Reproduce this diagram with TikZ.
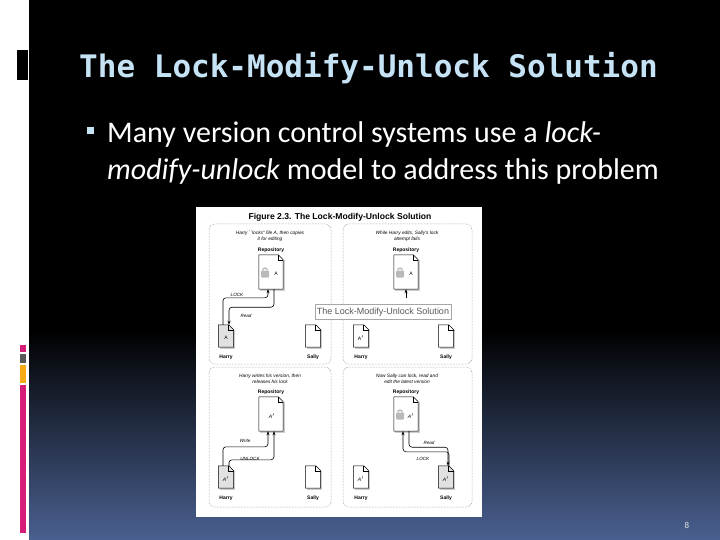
\documentclass[tikz,border=0pt]{standalone}
\usepackage{fontspec}
\setmainfont{Carlito}
\newfontfamily\monob{DejaVu Sans Mono}
\newfontfamily\figf{Liberation Sans}
\usetikzlibrary{arrows.meta}
\definecolor{titlec}{RGB}{198,226,245}
\definecolor{bottomc}{RGB}{74,96,144}
\definecolor{magc}{RGB}{214,30,120}
\definecolor{orgc}{RGB}{245,170,20}
\definecolor{docg}{RGB}{225,225,225}
\tikzset{
  panel/.style={draw=gray, densely dotted, rounded corners=6pt, line width=0.5pt},
  captxt/.style={font=\figf\itshape\fontsize{4.8}{5.6}\selectfont, align=center, inner sep=0},
  lbl/.style={font=\figf\bfseries\fontsize{5}{6}\selectfont, inner sep=0},
  arr/.style={draw=black, line width=0.6pt, rounded corners=3pt, -{Stealth[length=4pt,width=3pt]}},
  alab/.style={font=\figf\itshape\fontsize{4.6}{5}\selectfont, inner sep=0},
  bodytxt/.style={text=white, font=\fontsize{30}{37}\selectfont, anchor=base west, inner sep=0}
}
\newcommand\docu[6]{%
  \node[minimum width=#4pt, minimum height=#5pt, inner sep=0] (#1) at (#2,#3) {};
  \fill[gray!40] ([shift={(1.5pt,-1.5pt)}]#1.south west) rectangle ([shift={(1.5pt,-5pt)}]#1.north east);
  \filldraw[fill=#6, draw=black, line width=0.5pt] (#1.south west) -- (#1.north west) -- ([xshift=-5pt]#1.north east) -- ([yshift=-5pt]#1.north east) -- (#1.south east) -- cycle;
  \draw[line width=0.5pt] ([xshift=-5pt]#1.north east) |- ([yshift=-5pt]#1.north east);
}
\newcommand\padlock[3]{% name, x, y
  \node[minimum width=8pt, minimum height=7pt, inner sep=0, fill=gray!55, rounded corners=1pt] (#1) at (#2,#3) {};
  \draw[gray!55, line width=1.3pt] ([xshift=-2.3pt]#1.north) arc[start angle=180, end angle=0, radius=2.3pt];
}
\begin{document}
\begin{tikzpicture}[x=1pt,y=-1pt]
\useasboundingbox (0,0) rectangle (720,540);
\fill[white] (0,0) rectangle (720,540);
\fill[black] (29,0) rectangle (720,540);
\shade[top color=black, bottom color=bottomc] (29,330) rectangle (720,540);
\fill[black] (17,50) rectangle (28,80);
\fill[magc] (20,345) rectangle (26,352);
\fill[gray!70!black] (20,354) rectangle (26,363);
\fill[orgc] (20,365) rectangle (26,383);
\fill[magc] (20,385) rectangle (26,533);

\node[text=titlec, font=\monob\bfseries\fontsize{31}{34}\selectfont, anchor=base west, inner sep=0] (title) at (79,78) {The Lock-Modify-Unlock Solution};
\fill[titlec] (87,127) rectangle (94,134);
\node[bodytxt] (body1) at (107,143) {Many version control systems use a \textit{lock-}};
\node[bodytxt] (body2) at (107,180) {\textit{modify-unlock} model to address this problem};
\node[text=gray!20, font=\fontsize{9}{10}\selectfont, inner sep=0] (pg) at (687,525) {8};

% figure
\fill[white] (196,207) rectangle (482,517);
\node[font=\figf\bfseries\fontsize{8.6}{9}\selectfont, inner sep=0] (ftitle) at (340,217) {Figure 2.3. The Lock-Modify-Unlock Solution};
\draw[panel] (209,224) rectangle (331,364);
\draw[panel] (343,224) rectangle (472,364);
\draw[panel] (209,367) rectangle (331,507);
\draw[panel] (343,367) rectangle (472,507);

\node[captxt] (c1) at (270,236) {Harry ``locks'' file A, then copies\\it for editing};
\node[captxt] (c2) at (407,236) {While Harry edits, Sally's lock\\attempt fails};
\node[captxt] (c3) at (270,379) {Harry writes his version, then\\releases his lock};
\node[captxt] (c4) at (407,379) {Now Sally can lock, read and\\edit the latest version};

% TL
\node[lbl] (r1l) at (271,250) {Repository};
\docu{r1}{271}{272}{24}{34}{white}
\padlock{k1}{265}{274}
\node[font=\figf\fontsize{5}{6}\selectfont] (r1t) at (276,274) {A};
\docu{h1}{226}{336}{15}{22}{docg}
\node[font=\figf\fontsize{5}{6}\selectfont] (h1t) at (226,338) {A};
\node[lbl] (h1l) at (226,357) {Harry};
\docu{s1}{313}{336}{15}{22}{white}
\node[lbl] (s1l) at (313,357) {Sally};
\draw[arr] ([xshift=-3pt]h1.north) -- ++(0,-27) -| ([xshift=-3pt]r1.south);
\draw[arr] ([xshift=3pt]r1.south) -- ++(0,18) -| ([xshift=3pt]h1.north);
\node[alab] (lk1) at (237,295) {LOCK};
\node[alab] (rd1) at (246,316) {Read};

% TR
\node[lbl] (r2l) at (406,250) {Repository};
\docu{r2}{406}{272}{24}{34}{white}
\padlock{k2}{400}{274}
\node[font=\figf\fontsize{5}{6}\selectfont] (r2t) at (411,274) {A};
\docu{h2}{361}{336}{15}{22}{white}
\node[font=\figf\fontsize{5}{6}\selectfont] (h2t) at (361,338) {A$'$};
\node[lbl] (h2l) at (361,357) {Harry};
\docu{s2}{446}{336}{15}{22}{white}
\node[lbl] (s2l) at (446,357) {Sally};
\coordinate (t2) at (406,298);
\draw[arr] (t2) -- (r2.south);

% overlay box
\node[draw=gray!70, fill=white, font=\figf\fontsize{9}{10}\selectfont, text=gray!70!black, inner sep=2pt, minimum height=15pt] (ov) at (383,312) {The Lock-Modify-Unlock Solution};

% BL
\node[lbl] (r3l) at (271,392) {Repository};
\docu{r3}{271}{414}{24}{34}{white}
\node[font=\figf\itshape\fontsize{5}{6}\selectfont] (r3t) at (272,416) {A$'$};
\docu{h3}{226}{477}{15}{22}{docg}
\node[font=\figf\itshape\fontsize{5}{6}\selectfont] (h3t) at (226,479) {A$'$};
\node[lbl] (h3l) at (226,498) {Harry};
\docu{s3}{313}{477}{15}{22}{white}
\node[lbl] (s3l) at (313,498) {Sally};
\draw[arr] ([xshift=-3pt]h3.north) -- ++(0,-19) -| ([xshift=-3pt]r3.south);
\draw[arr] ([xshift=3pt]h3.north) -- ++(0,-6) -| ([xshift=3pt]r3.south);
\node[alab] (wr3) at (245,441) {Write};
\node[alab] (un3) at (250,459) {UNLOCK};

% BR
\node[lbl] (r4l) at (406,392) {Repository};
\docu{r4}{406}{414}{24}{34}{white}
\padlock{k4}{400}{416}
\node[font=\figf\itshape\fontsize{5}{6}\selectfont] (r4t) at (411,416) {A$'$};
\docu{h4}{361}{477}{15}{22}{white}
\node[font=\figf\itshape\fontsize{5}{6}\selectfont] (h4t) at (361,479) {A$'$};
\node[lbl] (h4l) at (361,498) {Harry};
\docu{s4}{446}{477}{15}{22}{docg}
\node[font=\figf\itshape\fontsize{5}{6}\selectfont] (s4t) at (446,479) {A$'$};
\node[lbl] (s4l) at (446,498) {Sally};
\draw[arr] ([xshift=3pt]s4.north) -- ++(0,-14) -| ([xshift=-3pt]r4.south);
\draw[arr] ([xshift=3pt]r4.south) -- ++(0,16) -| ([xshift=2pt]s4.north);
\node[alab] (rd4) at (429,443) {Read};
\node[alab] (lk4) at (423,459) {LOCK};
\end{tikzpicture}
\end{document}
